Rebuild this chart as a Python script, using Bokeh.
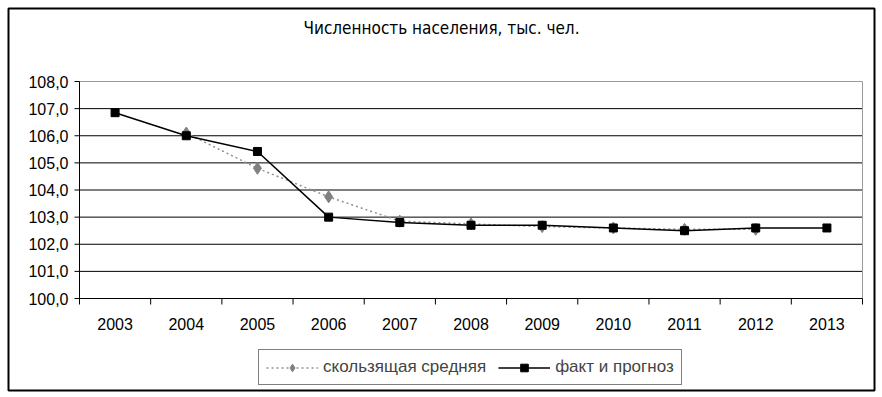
from bokeh.plotting import figure
from bokeh.models import Legend, LegendItem, ColumnDataSource, Range1d
from bokeh.core.properties import value
from bokeh.embed import file_html
from bokeh.resources import INLINE

# ---- data ----
years = ["2003", "2004", "2005", "2006", "2007", "2008", "2009", "2010", "2011", "2012", "2013"]
fact = [106.85, 106.0, 105.42, 103.0, 102.8, 102.7, 102.7, 102.6, 102.5, 102.6, 102.6]
ma_years = ["2004", "2005", "2006", "2007", "2008", "2009", "2010", "2011", "2012"]
ma = [106.1, 104.8, 103.75, 102.85, 102.75, 102.65, 102.6, 102.55, 102.55]
yticks = [100, 101, 102, 103, 104, 105, 106, 107, 108]
ytick_labels = ["100,0", "101,0", "102,0", "103,0", "104,0", "105,0", "106,0", "107,0", "108,0"]
title = "Численность населения, тыс. чел."

# ---- layout (frame pixels) ----
OFF = 8                      # frame offset inside canvas
FW, FH = 866, 382            # frame size (outer chart border)
PL, PR, PT, PB = 71, 854, 73, 290   # plot area inside the frame
n = len(years)
ymin, ymax = yticks[0], yticks[-1]
ux = (PR - PL) / n
uy = (PB - PT) / (ymax - ymin)
x_rng = Range1d(-PL / ux, (FW - PL) / ux)
y_rng = Range1d(ymin - (FH - PB) / uy, ymax + PT / uy)

FONT = "Liberation Sans"

p = figure(width=FW + OFF + 2, height=FH + OFF + 2, output_backend="svg", toolbar_location=None,
           x_range=x_rng, y_range=y_rng, x_axis_location=None, y_axis_location=None,
           min_border_left=OFF, min_border_top=OFF, min_border_right=2, min_border_bottom=2)
p.xgrid.visible = False
p.ygrid.visible = False
p.outline_line_color = "black"
p.outline_line_width = 2

idx = {y: i + 0.5 for i, y in enumerate(years)}
src_fact = ColumnDataSource(dict(x=[idx[y] for y in years], y=fact))
src_ma = ColumnDataSource(dict(x=[idx[y] for y in ma_years], y=ma))

# grid lines
inner = yticks[1:-1]
p.segment(x0=[0] * len(inner), x1=[n] * len(inner), y0=inner, y1=inner, line_color="black", line_width=1)
# gray plot-area border (top and right)
p.segment(x0=[0, n], x1=[n, n], y0=[ymax, ymin], y1=[ymax, ymax], line_color="#9a9a9a", line_width=1)
# axis lines
p.segment(x0=[0, 0], x1=[0, n], y0=[ymin, ymin], y1=[ymax, ymin], line_color="black", line_width=1)
# y ticks
p.segment(x0=[0] * len(yticks), x1=[-5 / ux] * len(yticks), y0=yticks, y1=yticks, line_color="black", line_width=1)
# x ticks (between categories)
bounds = list(range(n + 1))
p.segment(x0=bounds, x1=bounds, y0=[ymin] * len(bounds), y1=[ymin - 6 / uy] * len(bounds),
          line_color="black", line_width=1)

# tick labels
p.text(x=[0] * len(yticks), y=yticks, text=ytick_labels, x_offset=-11, text_align="right",
       text_baseline="middle", text_font=value(FONT), text_font_size="16px", text_color="black")
p.text(x=[idx[y] for y in years], y=[ymin] * n, text=years, y_offset=25, text_align="center",
       text_baseline="middle", text_font=value(FONT), text_font_size="16px", text_color="black")

# title (centred on the whole chart box)
p.text(x=[(FW / 2 - PL) / ux], y=[ymax], text=[title], y_offset=-54, text_align="center",
       text_baseline="middle", text_font=value("DejaVu Sans Condensed"), text_font_size="17px",
       text_color="black")

# series
ma_line = p.line("x", "y", source=src_ma, line_color="#909090", line_width=1.5, line_dash="2 3")
ma_pts = p.scatter("x", "y", source=src_ma, marker="diamond", size=12, fill_color="#808080", line_color="#808080")
f_line = p.line("x", "y", source=src_fact, line_color="black", line_width=1.5)
f_pts = p.scatter("x", "y", source=src_fact, marker="square", size=8, fill_color="black", line_color="black")

legend = Legend(items=[LegendItem(label="скользящая средняя", renderers=[ma_line, ma_pts]),
                       LegendItem(label="факт и прогноз", renderers=[f_line, f_pts])],
                orientation="horizontal", location=(250, 5),
                border_line_color="black", border_line_width=1,
                label_text_font=FONT, label_text_font_size="17px",
                glyph_width=52, glyph_height=19, label_standoff=5, spacing=12,
                padding=7, margin=0, label_height=19)
p.add_layout(legend, "center")

open("out.html", "w").write(file_html(p, INLINE))
